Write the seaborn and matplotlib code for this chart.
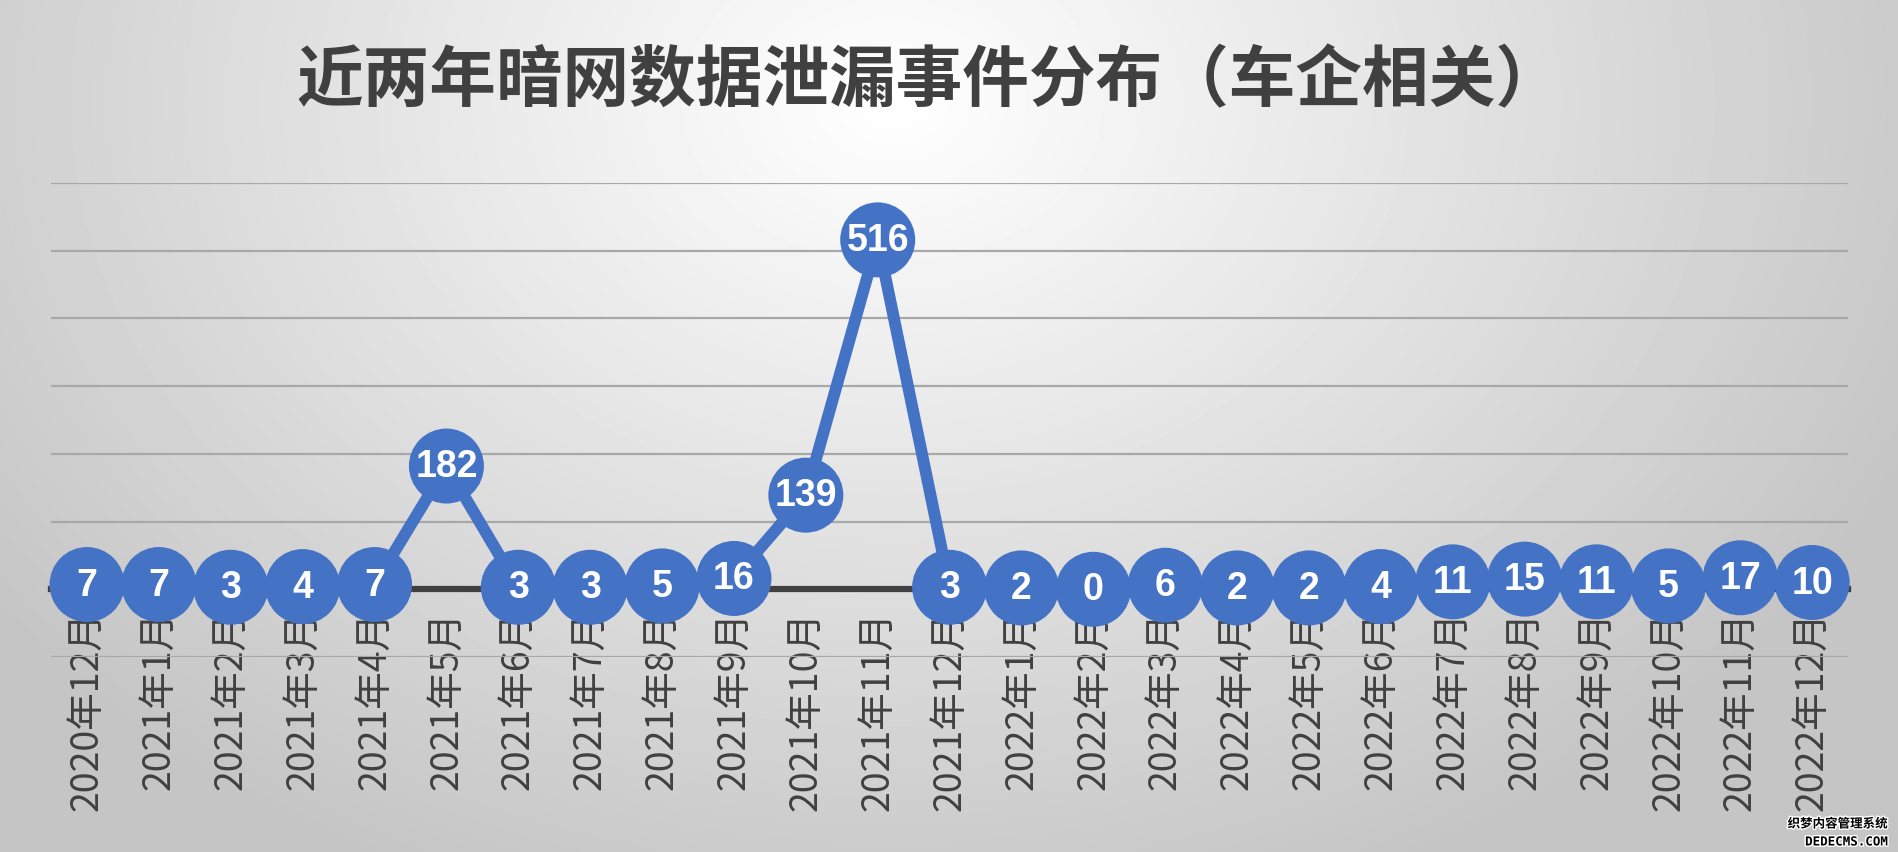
import numpy as np
import pandas as pd
import matplotlib
matplotlib.use('Agg')
import matplotlib.pyplot as plt
import matplotlib.patheffects as pe
import seaborn as sns

# ─── Data ─────────────────────────────────────────────────────────────────────
months = ['2020年12月', '2021年1月', '2021年2月', '2021年3月', '2021年4月',
          '2021年5月', '2021年6月', '2021年7月', '2021年8月', '2021年9月',
          '2021年10月', '2021年11月', '2021年12月', '2022年1月', '2022年2月',
          '2022年3月', '2022年4月', '2022年5月', '2022年6月', '2022年7月',
          '2022年8月', '2022年9月', '2022年10月', '2022年11月', '2022年12月']
events = [7, 7, 3, 4, 7, 182, 3, 3, 5, 16, 139, 516, 3, 2, 0, 6, 2, 2, 4,
          11, 15, 11, 5, 17, 10]
grid_vals = [-100, 0, 100, 200, 300, 400, 500, 600]
title = '近两年暗网数据泄漏事件分布（车企相关）'

BLUE = '#4472C4'
DARK = '#404040'

df = pd.DataFrame({'pos': np.arange(len(months)), 'events': events})

sns.set_theme(style='white')
plt.rcParams['font.family'] = ['Noto Sans CJK SC', 'DejaVu Sans']

fig = plt.figure(figsize=(18.99, 8.53), dpi=100)

# ─── Background gradient ──────────────────────────────────────────────────────
bg = fig.add_axes([0, 0, 1, 1], zorder=-10)
gx, gy = np.meshgrid(np.linspace(0, 1, 400), np.linspace(0, 1, 200))
d = np.sqrt(((gx - 0.47) / 0.62) ** 2 + ((gy - 0.12) / 1.05) ** 2)
shade = np.clip(1.0 - 0.24 * d, 0.77, 1.0)
bg.imshow(shade, cmap='gray', vmin=0, vmax=1, aspect='auto',
          extent=[0, 1, 1, 0], interpolation='bicubic')
bg.set_xlim(0, 1); bg.set_ylim(1, 0)
bg.axis('off')

# ─── Main axes ────────────────────────────────────────────────────────────────
ax = fig.add_axes([0.0269, 0.2286, 0.9463, 0.5557])
ax.set_facecolor('none')

sns.lineplot(data=df, x='pos', y='events', color=BLUE, linewidth=8.5,
             ax=ax, zorder=3, solid_joinstyle='round', solid_capstyle='round')
sns.scatterplot(data=df, x='pos', y='events', color=BLUE, s=54 ** 2,
                edgecolor='none', linewidth=0, ax=ax, zorder=4, clip_on=False)

for xi, v in zip(df['pos'], df['events']):
    ax.text(xi, v, str(v), ha='center', va='center', color='white',
            fontsize=27, fontweight='bold', zorder=6,
            family=['Liberation Sans', 'DejaVu Sans'])

ax.set_xlim(-0.5, len(months) - 0.5)
ax.set_ylim(grid_vals[0], grid_vals[-1])
ax.set_yticks(grid_vals)
ax.set_yticklabels([])
ax.tick_params(axis='y', length=0)
ax.yaxis.grid(True, color='#a8a8a8', linewidth=1.6, zorder=0)
ax.xaxis.grid(False)
ax.set_axisbelow(True)

for s in ['left', 'right', 'top']:
    ax.spines[s].set_visible(False)
ax.spines['bottom'].set_position(('data', 0))
ax.spines['bottom'].set_color(DARK)
ax.spines['bottom'].set_linewidth(4.5)
ax.spines['bottom'].set_zorder(2.5)

ax.set_xticks(df['pos'])
ax.set_xticklabels(months, rotation=90, fontsize=27, color=DARK,
                   fontweight='light')
ax.set_xticks(np.arange(len(months) + 1) - 0.5, minor=True)
ax.tick_params(axis='x', which='major', length=0, pad=15)
ax.tick_params(axis='x', which='minor', length=7, width=4.5, color=DARK,
               direction='out')
ax.set_xlabel(''); ax.set_ylabel('')

fig.text(0.4895, 1 - 82 / 853, title, ha='center', va='center',
         fontsize=48, fontweight='bold', color=DARK)

# watermark
wm = [pe.withStroke(linewidth=2, foreground='white')]
fig.text(0.994, 1 - 825 / 853, '织梦内容管理系统', ha='right', va='center',
         fontsize=9, fontweight='bold', color='black', path_effects=wm)
fig.text(0.994, 1 - 843 / 853, 'DEDECMS.COM', ha='right', va='center',
         fontsize=9, fontweight='bold', color='black', path_effects=wm,
         family='DejaVu Sans Mono')

fig.savefig('out.png', dpi=100)
